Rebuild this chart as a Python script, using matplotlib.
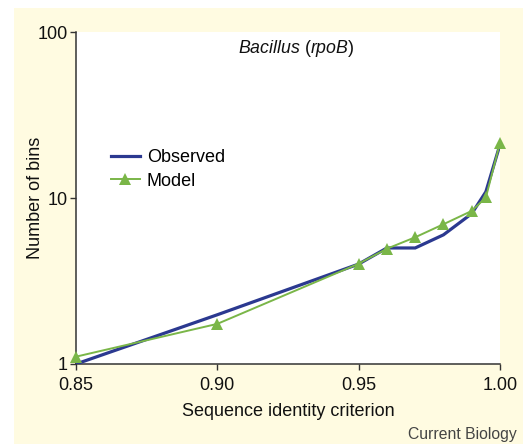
import matplotlib
matplotlib.use("Agg")
import matplotlib.pyplot as plt
from matplotlib.patches import Rectangle

plt.rcParams['font.family'] = ['Liberation Sans', 'DejaVu Sans']
plt.rcParams['mathtext.fontset'] = 'custom'
plt.rcParams['mathtext.rm'] = 'Liberation Sans'
plt.rcParams['mathtext.it'] = 'Liberation Sans:italic'

identity = [0.85, 0.90, 0.95, 0.96, 0.97, 0.98, 0.99, 0.995, 1.00]
observed = [1.0, 1.98, 4.0, 5.0, 5.0, 6.0, 8.05, 10.9, 21.0]
model = [1.107, 1.745, 4.02, 4.95, 5.8, 6.95, 8.36, 10.07, 21.5]
xticks = [0.85, 0.90, 0.95, 1.00]
xticklabels = ["0.85", "0.90", "0.95", "1.00"]
yticks = [1, 10, 100]
yticklabels = ["1", "10", "100"]

W, H = 523, 444
fig = plt.figure(figsize=(W / 100, H / 100), dpi=100)
fig.patch.set_facecolor('white')

bgax = fig.add_axes([14 / W, 0, 1 - 14 / W, 1 - 8 / H], zorder=-5)
bgax.set_axis_off()
bgax.add_patch(Rectangle((0, 0), 1, 1, transform=bgax.transAxes,
                         facecolor='#fffbe1', edgecolor='none'))

ax = fig.add_axes([76 / W, 1 - 364 / H, (500 - 76) / W, (364 - 32) / H], zorder=1)
ax.set_facecolor('white')
ax.set_yscale('log')
ax.set_xlim(0.85, 1.00)
ax.set_ylim(1, 100)

ax.plot(identity, observed, color='#2b3990', lw=2.3, label='Observed', zorder=3,
        solid_joinstyle='miter')
ax.plot(identity, model, color='#7ab648', lw=1.4, marker='^', ms=9,
        markeredgewidth=0, label='Model', zorder=4, clip_on=False)

ax.set_xticks(xticks)
ax.set_xticklabels(xticklabels)
ax.set_yticks(yticks)
ax.set_yticklabels(yticklabels)
ax.yaxis.set_minor_locator(matplotlib.ticker.NullLocator())
ax.tick_params(axis='both', direction='out', length=4, width=1, colors='#333333',
               labelsize=13, labelcolor='#111111')
ax.tick_params(axis='x', pad=5)
ax.tick_params(axis='y', pad=2)

for s in ['top', 'right']:
    ax.spines[s].set_visible(False)
for s in ['left', 'bottom']:
    ax.spines[s].set_color('#333333')
    ax.spines[s].set_linewidth(1.1)

ax.set_xlabel('Sequence identity criterion', fontsize=13, color='#111111', labelpad=7)
ax.set_ylabel('Number of bins', fontsize=13, color='#111111')
ax.yaxis.set_label_coords(-0.075, 0.5)

ax.text(0.52, 0.95, r'$\it{Bacillus}$ ($\it{rpoB}$)', transform=ax.transAxes,
        ha='center', va='center', fontsize=12.8, color='#111111')

leg = ax.legend(loc='upper left', bbox_to_anchor=(0.065, 0.668), frameon=False,
                fontsize=13, handlelength=1.6, handletextpad=0.4, labelspacing=0.35,
                borderaxespad=0)

fig.text(517 / W, 1 - 434 / H, 'Current Biology', ha='right', va='center',
         fontsize=11.3, color='#444444')

fig.savefig('out.png', dpi=100, facecolor=fig.get_facecolor())
